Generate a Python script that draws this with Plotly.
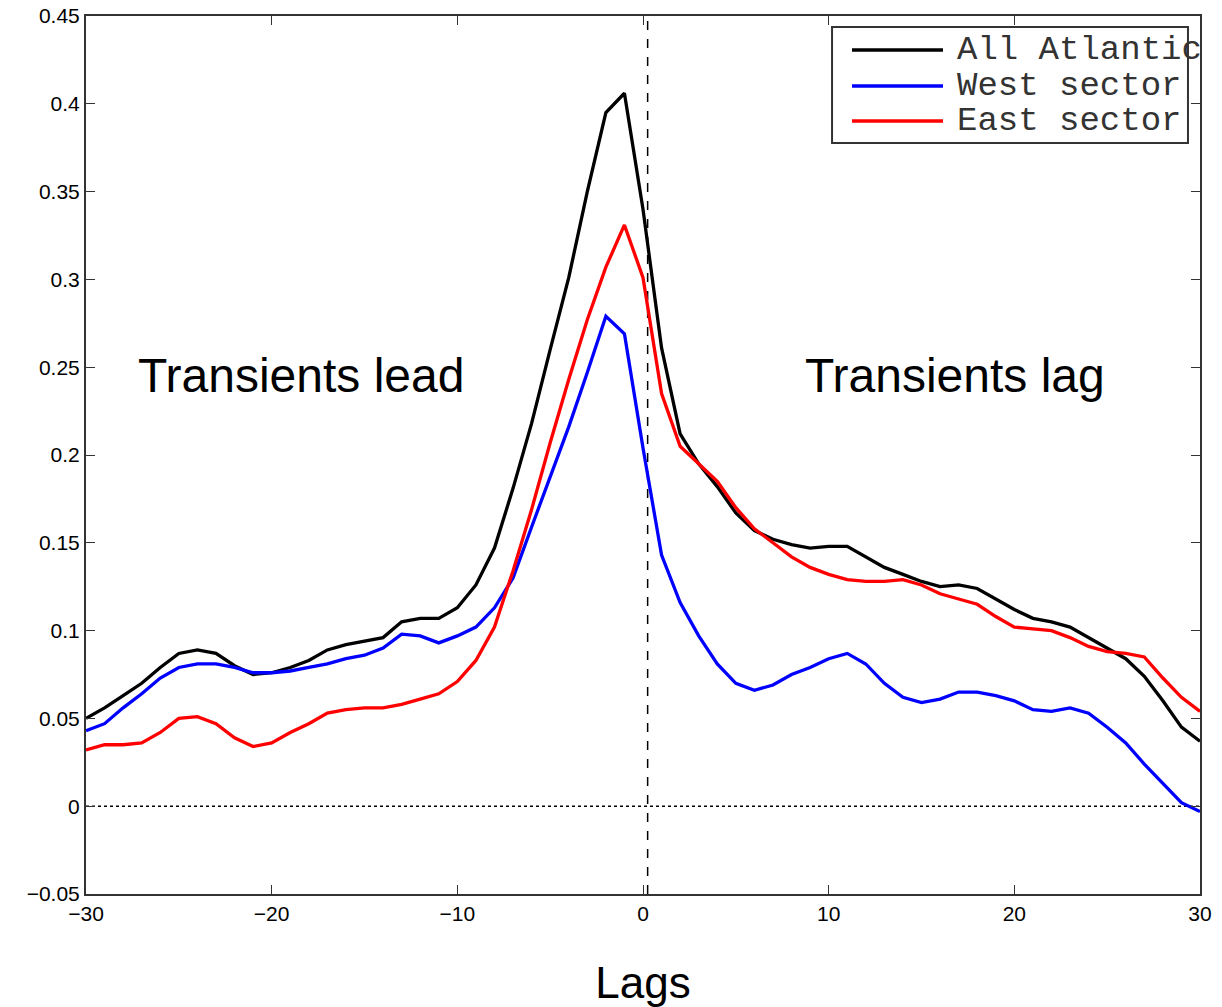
import plotly.graph_objects as go

lags = list(range(-30, 31))

all_atlantic = [
    0.050, 0.056, 0.063, 0.070, 0.079, 0.087, 0.089, 0.087, 0.080, 0.075,
    0.076, 0.079, 0.083, 0.089, 0.092, 0.094, 0.096, 0.105, 0.107, 0.107,
    0.113, 0.126, 0.147, 0.181, 0.218, 0.260, 0.301, 0.350, 0.395, 0.406,
    0.340, 0.261, 0.212, 0.195, 0.182, 0.167, 0.157, 0.152, 0.149, 0.147,
    0.148, 0.148, 0.142, 0.136, 0.132, 0.128, 0.125, 0.126, 0.124, 0.118,
    0.112, 0.107, 0.105, 0.102, 0.096, 0.090, 0.084, 0.074, 0.060, 0.045,
    0.037,
]

west_sector = [
    0.043, 0.047, 0.056, 0.064, 0.073, 0.079, 0.081, 0.081, 0.079, 0.076,
    0.076, 0.077, 0.079, 0.081, 0.084, 0.086, 0.090, 0.098, 0.097, 0.093,
    0.097, 0.102, 0.113, 0.130, 0.159, 0.187, 0.216, 0.247, 0.279, 0.269,
    0.204, 0.143, 0.116, 0.097, 0.081, 0.070, 0.066, 0.069, 0.075, 0.079,
    0.084, 0.087, 0.081, 0.070, 0.062, 0.059, 0.061, 0.065, 0.065, 0.063,
    0.060, 0.055, 0.054, 0.056, 0.053, 0.045, 0.036, 0.024, 0.013, 0.002,
    -0.003,
]

east_sector = [
    0.032, 0.035, 0.035, 0.036, 0.042, 0.050, 0.051, 0.047, 0.039, 0.034,
    0.036, 0.042, 0.047, 0.053, 0.055, 0.056, 0.056, 0.058, 0.061, 0.064,
    0.071, 0.083, 0.102, 0.134, 0.169, 0.207, 0.243, 0.277, 0.307, 0.331,
    0.301, 0.235, 0.205, 0.195, 0.185, 0.170, 0.158, 0.150, 0.142, 0.136,
    0.132, 0.129, 0.128, 0.128, 0.129, 0.126, 0.121, 0.118, 0.115, 0.108,
    0.102, 0.101, 0.100, 0.096, 0.091, 0.088, 0.087, 0.085, 0.073, 0.062,
    0.054,
]

series_names = ["All Atlantic", "West sector", "East sector"]
series_colors = ["#000000", "#0000ff", "#ff0000"]
series_values = [all_atlantic, west_sector, east_sector]

x_ticks = [-30, -20, -10, 0, 10, 20, 30]
y_ticks = [-0.05, 0, 0.05, 0.1, 0.15, 0.2, 0.25, 0.3, 0.35, 0.4, 0.45]

fig = go.Figure()

# zero reference line (dotted)
fig.add_trace(go.Scatter(
    x=[-30, 30], y=[0, 0], mode="lines",
    line=dict(color="#000000", width=1.5, dash="dot"),
    showlegend=False, hoverinfo="skip",
))
# lag-zero reference line (dashed)
fig.add_trace(go.Scatter(
    x=[0.25, 0.25], y=[-0.05, 0.45], mode="lines",
    line=dict(color="#000000", width=1.5, dash="dash"),
    showlegend=False, hoverinfo="skip",
))

for name, col, vals in zip(series_names, series_colors, series_values):
    fig.add_trace(go.Scatter(
        x=lags, y=vals, mode="lines", name=name,
        line=dict(color=col, width=3.3),
        showlegend=False,
    ))

# custom legend box (MATLAB style)
legend_x0, legend_x1 = 0.6697, 0.9892
legend_y0, legend_y1 = 0.8554, 0.9875
shapes = [dict(type="rect", xref="paper", yref="paper",
               x0=legend_x0, x1=legend_x1, y0=legend_y0, y1=legend_y1,
               line=dict(color="#333333", width=2), fillcolor="white", layer="above")]
annotations = []
row_y = [0.9613, 0.9203, 0.8804]
for name, col, yy in zip(series_names, series_colors, row_y):
    shapes.append(dict(type="line", xref="paper", yref="paper",
                       x0=0.6876, x1=0.7693, y0=yy, y1=yy,
                       line=dict(color=col, width=3.3), layer="above"))
    annotations.append(dict(xref="paper", yref="paper", x=0.7801, y=yy,
                            xanchor="left", yanchor="middle", text=name,
                            showarrow=False,
                            font=dict(family="Liberation Mono, Courier New, monospace",
                                      size=34, color="#333333")))

annotations.append(dict(x=-18.4, y=0.245, xref="x", yref="y", text="Transients lead",
                        showarrow=False, xanchor="center", yanchor="middle",
                        font=dict(family="Arial, Liberation Sans", size=48, color="black")))
annotations.append(dict(x=16.8, y=0.245, xref="x", yref="y", text="Transients lag",
                        showarrow=False, xanchor="center", yanchor="middle",
                        font=dict(family="Arial, Liberation Sans", size=48, color="black")))

fig.update_layout(
    width=1222, height=1007,
    margin=dict(l=86, r=22, t=16, b=113),
    paper_bgcolor="white", plot_bgcolor="white",
    shapes=shapes, annotations=annotations,
    showlegend=False,
    font=dict(family="Arial, Liberation Sans", color="black"),
)

fig.update_xaxes(
    range=[-30, 30], tickvals=x_ticks,
    showgrid=False, zeroline=False,
    showline=True, linecolor="#333333", linewidth=2, mirror="ticks",
    ticks="inside", ticklen=9, tickcolor="#333333", tickwidth=1,
    tickfont=dict(size=21, color="black"),
    title=dict(text="Lags", font=dict(size=44, color="black"), standoff=44),
    automargin=False,
)
fig.update_yaxes(
    range=[-0.05, 0.45], tickvals=y_ticks,
    showgrid=False, zeroline=False,
    showline=True, linecolor="#333333", linewidth=2, mirror="ticks",
    ticks="inside", ticklen=9, tickcolor="#333333", tickwidth=1,
    tickfont=dict(size=21, color="black"),
    automargin=False,
)

fig.write_html("out.html")
